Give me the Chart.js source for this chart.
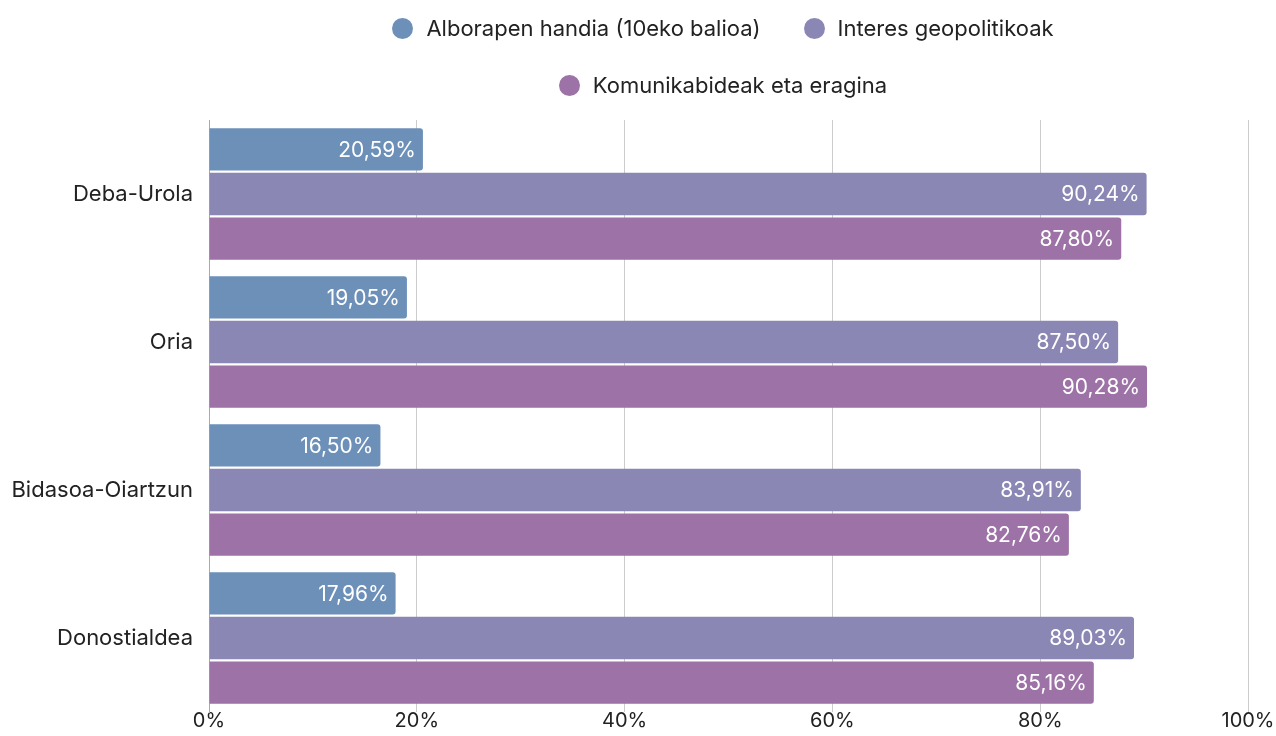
<!DOCTYPE html>
<html>
<head>
<meta charset="utf-8">
<script src="https://cdn.jsdelivr.net/npm/chart.js@4.4.1/dist/chart.umd.min.js"></script>
<style>
  html, body { margin: 0; padding: 0; background: #fff; }
  #wrap { position: relative; width: 1276px; height: 736px; }
  #legend {
    position: absolute; left: 373px; top: 14px; width: 700px;
    display: flex; flex-wrap: wrap; justify-content: center;
    column-gap: 43px; row-gap: 29px;
    font-family: Inter, "DejaVu Sans", sans-serif; font-size: 22px; color: #222;
  }
  .item { display: flex; align-items: center; height: 28px; white-space: nowrap; }
  .dot { width: 21px; height: 21px; border-radius: 50%; margin-right: 13px; }
</style>
</head>
<body>
<div id="wrap">
  <canvas id="myChart" width="1276" height="736"></canvas>
  <div id="legend"></div>
</div>
<script>
// categories and series values (percent)
const regions = ['Deba-Urola', 'Oria', 'Bidasoa-Oiartzun', 'Donostialdea'];
const alborapen = [20.59, 19.05, 16.50, 17.96];
const interes = [90.24, 87.50, 83.91, 89.03];
const komunikabideak = [87.80, 90.28, 82.76, 85.16];
const seriesNames = ['Alborapen handia (10eko balioa)', 'Interes geopolitikoak', 'Komunikabideak eta eragina'];
const xTicks = [0, 20, 40, 60, 80, 100];

const FONT = 'Inter, "DejaVu Sans", sans-serif';

// writes the value inside the end of each bar
const barLabels = {
    id: 'barLabels',
    afterDatasetsDraw(chart) {
        const ctx = chart.ctx;
        ctx.save();
        ctx.font = '21px ' + FONT;
        ctx.fillStyle = '#ffffff';
        ctx.textAlign = 'right';
        ctx.textBaseline = 'middle';
        chart.data.datasets.forEach((ds, i) => {
            chart.getDatasetMeta(i).data.forEach((bar, j) => {
                const txt = ds.data[j].toFixed(2).replace('.', ',') + '%';
                ctx.fillText(txt, bar.x - 7, bar.y + 1);
            });
        });
        ctx.restore();
    }
};

const ctx = document.getElementById('myChart').getContext('2d');
const chart = new Chart(ctx, {
    type: 'bar',
    data: {
        labels: regions,
        datasets: [
            { label: seriesNames[0], data: alborapen, backgroundColor: '#6d90b9' },
            { label: seriesNames[1], data: interes, backgroundColor: '#8a87b5' },
            { label: seriesNames[2], data: komunikabideak, backgroundColor: '#9d72a6' }
        ]
    },
    options: {
        indexAxis: 'y',
        responsive: false,
        animation: false,
        datasets: {
            bar: {
                categoryPercentage: 0.905,
                barPercentage: 0.95,
                borderRadius: 3
            }
        },
        layout: {
            padding: { left: 12, right: 0, top: 120, bottom: 0 }
        },
        plugins: {
            tooltip: { enabled: false },
            legend: { display: false }
        },
        scales: {
            x: {
                min: 0,
                max: 100,
                afterBuildTicks: axis => { axis.ticks = xTicks.map(v => ({ value: v })); },
                afterFit: axis => {
                    axis.paddingRight = 28;
                    axis.paddingBottom = 0;
                    axis.height = 24;
                },
                ticks: {
                    color: '#222',
                    padding: -3,
                    maxRotation: 0,
                    font: { family: FONT, size: 20 },
                    callback: v => v + '%'
                },
                grid: { color: '#cccccc', drawTicks: false },
                border: { display: false }
            },
            y: {
                afterFit: axis => {
                    axis.width = 197;
                    axis.paddingTop = 0;
                    axis.paddingBottom = 0;
                },
                ticks: {
                    color: '#222',
                    padding: 16,
                    font: { family: FONT, size: 22 }
                },
                grid: { display: false, drawTicks: false },
                border: { display: true, color: '#aaaaaa' }
            }
        }
    },
    plugins: [barLabels]
});

// legend drawn as html, two rows like the original
const legendBox = document.getElementById('legend');
chart.data.datasets.forEach(ds => {
    const item = document.createElement('div');
    item.className = 'item';
    const dot = document.createElement('span');
    dot.className = 'dot';
    dot.style.background = ds.backgroundColor;
    item.appendChild(dot);
    item.appendChild(document.createTextNode(ds.label));
    legendBox.appendChild(item);
});
</script>
</body>
</html>
